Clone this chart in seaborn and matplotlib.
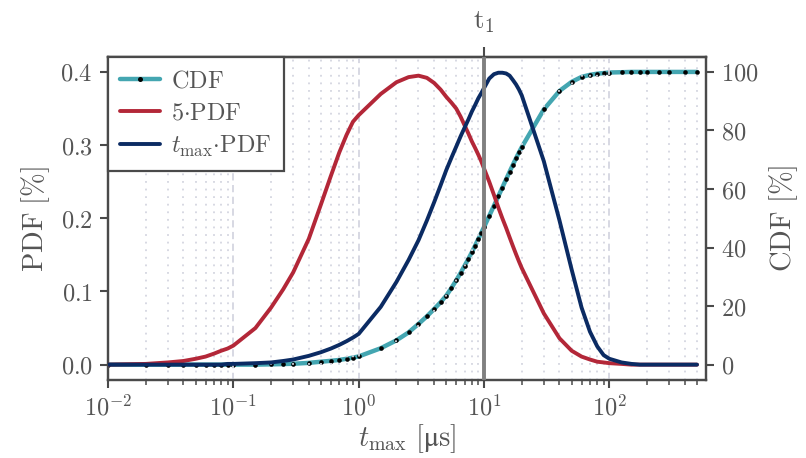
import numpy as np
import pandas as pd
import matplotlib
matplotlib.use("Agg")
import matplotlib.pyplot as plt
import seaborn as sns
from matplotlib.lines import Line2D
from matplotlib.ticker import FuncFormatter, FixedLocator, LogLocator

# ---- data ----
t_max = [0.01, 0.02, 0.03, 0.04, 0.05, 0.06, 0.07, 0.08, 0.09, 0.1,
         0.15, 0.2, 0.25, 0.3, 0.4, 0.5, 0.6, 0.7, 0.8, 0.9, 1.0,
         1.5, 2.0, 2.5, 3.0, 3.5, 4.0, 4.5, 5.0, 5.5, 6.0, 6.5, 7.0, 7.5,
         8.0, 8.5, 9.0, 9.5, 10, 11, 12, 13, 14, 15, 16, 17, 18, 19, 20,
         30, 40, 50, 60, 70, 80, 90, 100, 125, 150, 175, 200, 250, 300, 400, 500]

cdf_pct = [0.0, 0.0, 0.0, 0.0, 0.0, 0.0, 0.0, 0.0, 0.0, 0.0,
           0.0, 0.1, 0.2, 0.3, 0.6, 1.0, 1.3, 1.6, 2.0, 2.4, 2.8,
           5.6, 8.3, 11.0, 13.9, 16.5, 19.0, 21.3, 23.6, 26.2, 28.8, 31.3, 33.8, 36.1,
           38.4, 40.7, 42.9, 45.0, 47.0, 50.8, 54.3, 57.5, 60.5, 63.3, 65.9, 68.3, 70.5, 72.5, 74.3,
           87.2, 93.5, 96.6, 98.3, 99.0, 99.4, 99.6, 99.8, 99.9, 100.0, 100.0, 100.0, 100.0, 100.0, 100.0, 100.0]

pdf5 = [0.000, 0.001, 0.003, 0.005, 0.008, 0.011, 0.015, 0.019, 0.022, 0.026,
        0.050, 0.078, 0.103, 0.126, 0.172, 0.219, 0.258, 0.290, 0.314, 0.332, 0.341,
        0.370, 0.386, 0.393, 0.395, 0.392, 0.385, 0.376, 0.366, 0.358, 0.350, 0.339, 0.327, 0.316,
        0.305, 0.296, 0.287, 0.278, 0.268, 0.250, 0.232, 0.215, 0.200, 0.187, 0.174, 0.162, 0.151, 0.141, 0.132,
        0.070, 0.036, 0.019, 0.011, 0.007, 0.004, 0.003, 0.002, 0.001, 0.000, 0.000, 0.000, 0.000, 0.000, 0.000, 0.000]

tpdf = [0.000, 0.000, 0.000, 0.000, 0.000, 0.000, 0.000, 0.000, 0.001, 0.001,
        0.002, 0.003, 0.005, 0.007, 0.012, 0.017, 0.022, 0.027, 0.032, 0.037, 0.042,
        0.079, 0.113, 0.143, 0.170, 0.197, 0.222, 0.245, 0.266, 0.283, 0.298, 0.312, 0.324, 0.335,
        0.346, 0.355, 0.364, 0.371, 0.378, 0.391, 0.397, 0.399, 0.399, 0.398, 0.395, 0.389, 0.383, 0.376, 0.368,
        0.278, 0.197, 0.130, 0.078, 0.045, 0.025, 0.013, 0.008, 0.003, 0.001, 0.000, 0.000, 0.000, 0.000, 0.000, 0.000]

left_ticks = [0.0, 0.1, 0.2, 0.3, 0.4]
right_ticks = [0, 20, 40, 60, 80, 100]
x_ticks = [1e-2, 1e-1, 1e0, 1e1, 1e2]
t1 = 10

df = pd.DataFrame({"t": t_max, "cdf": cdf_pct, "pdf5": pdf5, "tpdf": tpdf})

# ---- style ----
sns.set_style("ticks")
plt.rcParams["mathtext.fontset"] = "cm"
plt.rcParams["font.family"] = ["DejaVu Serif"]

GRAY = "#555555"
SPINE = "#4a4a4a"
TEAL = "#44a6b1"
RED = "#b32738"
NAVY = "#0b2b63"
FS = 17.5
FL = 20.5

fig = plt.figure(figsize=(8.06, 4.58), dpi=100)
ax = fig.add_axes([108 / 806, 1 - 380 / 458, (706 - 108) / 806, (380 - 57) / 458])
ax2 = ax.twinx()
ax.set_zorder(ax2.get_zorder() + 1)
ax.patch.set_visible(False)

# CDF on the right axis (drawn underneath)
sns.lineplot(data=df, x="t", y="cdf", ax=ax2, color=TEAL, lw=3.2, zorder=2, legend=False)
sns.scatterplot(data=df, x="t", y="cdf", ax=ax2, color="black", s=11, linewidth=0,
                zorder=3, legend=False)
sns.lineplot(data=df, x="t", y="pdf5", ax=ax, color=RED, lw=2.8, zorder=3, legend=False)
sns.lineplot(data=df, x="t", y="tpdf", ax=ax, color=NAVY, lw=2.8, zorder=3, legend=False)
ax.axvline(t1, color="#808080", lw=2.8, zorder=5)

ax.set_xscale("log")
ax.set_xlim(1e-2, 590)
ax.set_ylim(-0.021, 0.4205)
ax2.set_ylim(-5.25, 105.1)

ax.xaxis.set_major_locator(FixedLocator(x_ticks))
ax.xaxis.set_minor_locator(LogLocator(base=10, subs=np.arange(2, 10)))
ax.xaxis.set_major_formatter(FuncFormatter(lambda v, p: rf"$10^{{{int(round(np.log10(v)))}}}$"))
ax.set_yticks(left_ticks)
ax.yaxis.set_major_formatter(FuncFormatter(lambda v, p: rf"${v:.1f}$"))
ax2.set_yticks(right_ticks)
ax2.yaxis.set_major_formatter(FuncFormatter(lambda v, p: rf"${v:.0f}$"))

# grid (vertical only)
ax.grid(False)
ax2.grid(False)
ax.xaxis.grid(True, which="major", color="#d4d6e0", lw=1.3, ls=(0, (4, 2.5)), zorder=0)
ax.xaxis.grid(True, which="minor", color="#d4d6e0", lw=1.3, ls=(0, (1, 3.2)), zorder=0)

for a in (ax, ax2):
    for s in a.spines.values():
        s.set_color(SPINE)
        s.set_linewidth(1.6)
        s.set_visible(True)
    a.tick_params(which="major", direction="out", length=6, width=1.5,
                  color=SPINE, labelcolor=GRAY, labelsize=FS, pad=5)
    a.tick_params(which="minor", direction="out", length=3.5, width=1.1, color=SPINE)

ax.set_xlabel(r"$t_\mathrm{max}\ [\mathrm{μs}]$", fontsize=FL, color=GRAY, labelpad=1)
ax.set_ylabel(r"$\mathrm{PDF\ [\%]}$", fontsize=FL, color=GRAY, labelpad=6)
ax2.set_ylabel(r"$\mathrm{CDF\ [\%]}$", fontsize=FL, color=GRAY, labelpad=6)

# top tick marking t1
sec = ax.secondary_xaxis("top")
sec.set_xticks([t1])
sec.set_xticklabels([r"$\mathrm{t}_1$"])
sec.xaxis.set_minor_locator(FixedLocator([]))
sec.tick_params(direction="out", length=7.5, width=1.5, color=SPINE, labelcolor=GRAY,
                labelsize=FL - 1, pad=8)
sec.spines["top"].set_color(SPINE)
sec.spines["top"].set_linewidth(1.6)

# legend (CDF handle: teal line with a black dot)
h1 = Line2D([], [], color=TEAL, lw=3.2, marker="o", markersize=3.6,
            markerfacecolor="black", markeredgecolor="black", markeredgewidth=0)
h2, h3 = ax.get_lines()[0], ax.get_lines()[1]
leg = ax.legend([h1, h2, h3],
                [r"$\mathrm{CDF}$", r"$5{\cdot}\mathrm{PDF}$", r"$t_\mathrm{max}{\cdot}\mathrm{PDF}$"],
                loc="upper left", borderaxespad=0, fontsize=FS, frameon=True,
                fancybox=False, framealpha=1, edgecolor=SPINE, handlelength=1.65,
                labelspacing=0.38, handletextpad=0.45, borderpad=0.5, numpoints=1)
leg.get_frame().set_linewidth(1.6)
for t in leg.get_texts():
    t.set_color(GRAY)
leg.set_zorder(10)

fig.savefig("out.png", dpi=100)
